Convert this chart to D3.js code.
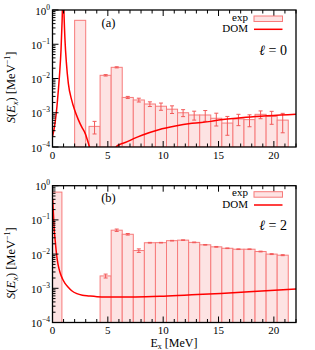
<!DOCTYPE html>
<html><head><meta charset="utf-8">
<script src="https://cdn.jsdelivr.net/npm/d3@7"></script>
<style>body{margin:0;background:#fff}</style></head>
<body><svg id="c" width="315" height="350"></svg>
<script>
// ---------- data ----------
const xTicks = [0, 5, 10, 15, 20];
const yTickExp = [0, -1, -2, -3, -4];
const panelLabels = ["(a)", "(b)"];
const ellLabels = ["0", "2"];
const legendLabels = ["exp", "DOM"];

// panel (a): l = 0
const expA_x0 = [2.0, 3.3, 4.3, 5.3, 6.3, 7.3, 8.3, 9.3, 10.3, 11.3, 12.3, 13.3, 14.3, 15.3, 16.3, 17.3, 18.3, 19.3, 20.3];
const expA_x1 = [3.0, 4.3, 5.3, 6.3, 7.3, 8.3, 9.3, 10.3, 11.3, 12.3, 13.3, 14.3, 15.3, 16.3, 17.3, 18.3, 19.3, 20.3, 21.3];
const expA_v  = [0.5, 4.0e-4, 0.0124, 0.0212, 0.0028, 2.36e-3, 1.8e-3, 1.55e-3, 1.27e-3, 1.0e-3, 8.6e-4, 8.6e-4, 6.9e-4, 5.0e-4, 6.6e-4, 6.3e-4, 9.0e-4, 7.8e-4, 6.1e-4];
const expA_e  = [0, 1.6e-4, 6e-4, 8e-4, 2e-4, 3e-4, 2.8e-4, 3.7e-4, 3.2e-4, 2.3e-4, 2.5e-4, 3.0e-4, 2.8e-4, 2.8e-4, 2.4e-4, 2.4e-4, 2.3e-4, 3.2e-4, 3.5e-4];
const domA_x = [0, 0.23, 0.4, 0.53, 0.65, 0.77, 0.87, 0.97, 1.05, 1.13, 1.25, 1.43, 1.74, 2.0, 2.34, 2.65, 2.95, 3.34, 3.6, 4.5, 5.5, 5.75, 6.1, 6.57, 7.33, 8.08, 9.6, 11.1, 12.6, 14.3, 15.2, 17.5, 22];
const domA_y = [2e-4, 5e-4, 1.5e-3, 4.6e-3, 0.015, 0.068, 0.5, 8, 0.6, 0.13, 0.03, 0.0072, 0.0023, 1.2e-3, 6.2e-4, 3.8e-4, 2.5e-4, 1e-4, 5e-5, 1e-5, 5e-5, 1e-4, 1.2e-4, 1.35e-4, 1.75e-4, 2.2e-4, 3.2e-4, 4.1e-4, 4.9e-4, 5.6e-4, 6.2e-4, 7.4e-4, 9.1e-4];

// panel (b): l = 2
const expB_x0 = [0.0, 4.3, 5.3, 6.3, 7.3, 8.3, 9.3, 10.3, 11.3, 12.3, 13.3, 14.3, 15.3, 16.3, 17.3, 18.3, 19.3, 20.3];
const expB_x1 = [0.85, 5.3, 6.3, 7.3, 8.3, 9.3, 10.3, 11.3, 12.3, 13.3, 14.3, 15.3, 16.3, 17.3, 18.3, 19.3, 20.3, 21.3];
const expB_v  = [0.65, 0.0023, 0.050, 0.038, 0.0127, 0.0215, 0.0216, 0.0247, 0.0256, 0.022, 0.0187, 0.0163, 0.0148, 0.0139, 0.0139, 0.0119, 0.010, 0.0093];
const expB_e  = [0, 0.0003, 0.004, 0.002, 0.0015, 0.0005, 0.0004, 0.0005, 0.0005, 0.0005, 0.0004, 0.0004, 0.0003, 0.0003, 0.0003, 0.0003, 0.0003, 0.0003];
const domB_x = [0.02, 0.1, 0.16, 0.23, 0.38, 0.5, 0.68, 0.9, 1.13, 1.4, 1.74, 2.2, 2.7, 3.25, 4.46, 7.48, 10.05, 13.07, 15.2, 17.75, 22];
const domB_y = [0.4, 0.12, 0.05, 0.028, 0.009, 0.005, 0.0029, 0.0019, 0.0014, 0.0011, 8.5e-4, 7e-4, 6.3e-4, 6e-4, 5.6e-4, 5.6e-4, 5.9e-4, 6.6e-4, 7.1e-4, 7.9e-4, 9.5e-4];

// ---------- drawing ----------
const svg = d3.select("#c");
const FONT = "'Liberation Serif', 'DejaVu Serif', serif";
const L = 52.5, R = 296;
const barFill = "#fde3e3", barStroke = "#f77b7b", errCol = "#f25a5a", lineCol = "#ff0000";

function panel(idx, top, bottom, x0s, x1s, vs, es, dx, dy) {
  const x = d3.scaleLinear().domain([0, 22]).range([L, R]);
  const y = d3.scaleLog().domain([1e-4, 1]).range([bottom, top]);
  const g = svg.append("g");
  const cid = "clip" + idx;
  svg.append("clipPath").attr("id", cid).append("rect")
    .attr("x", L).attr("y", top).attr("width", R - L).attr("height", bottom - top);
  const pg = g.append("g").attr("clip-path", `url(#${cid})`);
  const bars = x0s.map((d, i) => ({x0: d, x1: x1s[i], v: vs[i], e: es[i]}));
  pg.selectAll("rect.bar").data(bars).join("rect")
    .attr("x", d => x(d.x0)).attr("width", d => x(d.x1) - x(d.x0))
    .attr("y", d => y(d.v)).attr("height", d => bottom - y(d.v))
    .attr("fill", barFill).attr("stroke", barStroke).attr("stroke-width", 1);
  const eb = pg.selectAll("g.err").data(bars.filter(d => d.e > 0)).join("g");
  eb.append("line")
    .attr("x1", d => x((d.x0 + d.x1) / 2)).attr("x2", d => x((d.x0 + d.x1) / 2))
    .attr("y1", d => y(Math.max(d.v - d.e, 1e-6))).attr("y2", d => y(d.v + d.e))
    .attr("stroke", errCol).attr("stroke-width", 1);
  [1, -1].forEach(s => {
    eb.append("line")
      .attr("x1", d => x((d.x0 + d.x1) / 2) - 2).attr("x2", d => x((d.x0 + d.x1) / 2) + 2)
      .attr("y1", d => y(Math.max(d.v + s * d.e, 1e-6))).attr("y2", d => y(Math.max(d.v + s * d.e, 1e-6)))
      .attr("stroke", errCol).attr("stroke-width", 1);
  });
  const pts = dx.map((d, i) => [d, dy[i]]);
  pg.append("path").datum(pts)
    .attr("d", d3.line().x(d => x(d[0])).y(d => y(d[1])).curve(d3.curveMonotoneX))
    .attr("fill", "none").attr("stroke", lineCol).attr("stroke-width", 1.5);

  // ticks
  const tg = g.append("g").attr("stroke", "#000").attr("stroke-width", 1);
  d3.range(0, 23).forEach(v => {
    const len = (v % 5 === 0) ? 6 : 3.5;
    tg.append("line").attr("x1", x(v)).attr("x2", x(v)).attr("y1", bottom).attr("y2", bottom - len);
    tg.append("line").attr("x1", x(v)).attr("x2", x(v)).attr("y1", top).attr("y2", top + len);
  });
  yTickExp.forEach(k => {
    tg.append("line").attr("x1", L).attr("x2", L + 6).attr("y1", y(Math.pow(10, k))).attr("y2", y(Math.pow(10, k)));
    if (k < 0) d3.range(2, 10).forEach(m => {
      const yy = y(m * Math.pow(10, k));
      tg.append("line").attr("x1", L).attr("x2", L + 3).attr("y1", yy).attr("y2", yy);
    });
  });
  // frame
  g.append("rect").attr("x", L).attr("y", top).attr("width", R - L).attr("height", bottom - top)
    .attr("fill", "none").attr("stroke", "#000").attr("stroke-width", 1.3);

  // tick labels
  xTicks.forEach(v => {
    g.append("text").attr("x", x(v)).attr("y", bottom + 11.5).attr("text-anchor", "middle")
      .attr("font-family", FONT).attr("font-size", 11).text(v);
  });
  yTickExp.forEach(k => {
    const t = g.append("text").attr("x", L - 2.5).attr("y", y(Math.pow(10, k)) + 4.5).attr("text-anchor", "end")
      .attr("font-family", FONT).attr("font-size", 11);
    t.append("tspan").text("10");
    t.append("tspan").attr("dy", -5).attr("font-size", 7.5).text(k === 0 ? "0" : "\u2212" + (-k));
  });
  // y title
  const yt = g.append("text").attr("transform", `translate(15,${(top + bottom) / 2 + 9}) rotate(-90)`)
    .attr("text-anchor", "middle").attr("font-family", FONT).attr("font-size", 12.5);
  yt.append("tspan").attr("font-style", "italic").text("S");
  yt.append("tspan").text("(");
  yt.append("tspan").attr("font-style", "italic").text("E");
  yt.append("tspan").attr("dy", 3).attr("font-size", 8.5).attr("font-style", "italic").text("x");
  yt.append("tspan").attr("dy", -3).text(") [MeV");
  yt.append("tspan").attr("dy", -5).attr("font-size", 8).text("\u22121");
  yt.append("tspan").attr("dy", 5).text("]");

  // panel label
  g.append("text").attr("x", 108.5).attr("y", top + 16.5).attr("text-anchor", "middle")
    .attr("font-family", FONT).attr("font-size", 12.5).text(panelLabels[idx]);
  // ell label
  const el = g.append("text").attr("x", 287).attr("y", top + 44.5).attr("text-anchor", "end")
    .attr("font-family", FONT).attr("font-size", 14);
  el.append("tspan").attr("font-style", "italic").text("\u2113");
  el.append("tspan").text(" = " + ellLabels[idx]);
  // legend
  g.append("text").attr("x", 248).attr("y", top + 10.5).attr("text-anchor", "end")
    .attr("font-family", FONT).attr("font-size", 11).text(legendLabels[0]);
  g.append("text").attr("x", 248).attr("y", top + 22).attr("text-anchor", "end")
    .attr("font-family", FONT).attr("font-size", 11).text(legendLabels[1]);
  g.append("rect").attr("x", 254).attr("y", top + 6).attr("width", 28.5).attr("height", 5.5)
    .attr("fill", barFill).attr("stroke", barStroke).attr("stroke-width", 1);
  g.append("line").attr("x1", 254).attr("x2", 282.5).attr("y1", top + 19.3).attr("y2", top + 19.3)
    .attr("stroke", lineCol).attr("stroke-width", 1.5);
}

panel(0, 10, 147, expA_x0, expA_x1, expA_v, expA_e, domA_x, domA_y);
panel(1, 185.7, 322.5, expB_x0, expB_x1, expB_v, expB_e, domB_x, domB_y);

// x title
const xt = svg.append("text").attr("x", 174).attr("y", 347).attr("text-anchor", "middle")
  .attr("font-family", FONT).attr("font-size", 12);
xt.append("tspan").text("E");
xt.append("tspan").attr("dy", 1.5).attr("font-size", 8).text("x");
xt.append("tspan").attr("dy", -1.5).text(" [MeV]");
</script></body></html>
